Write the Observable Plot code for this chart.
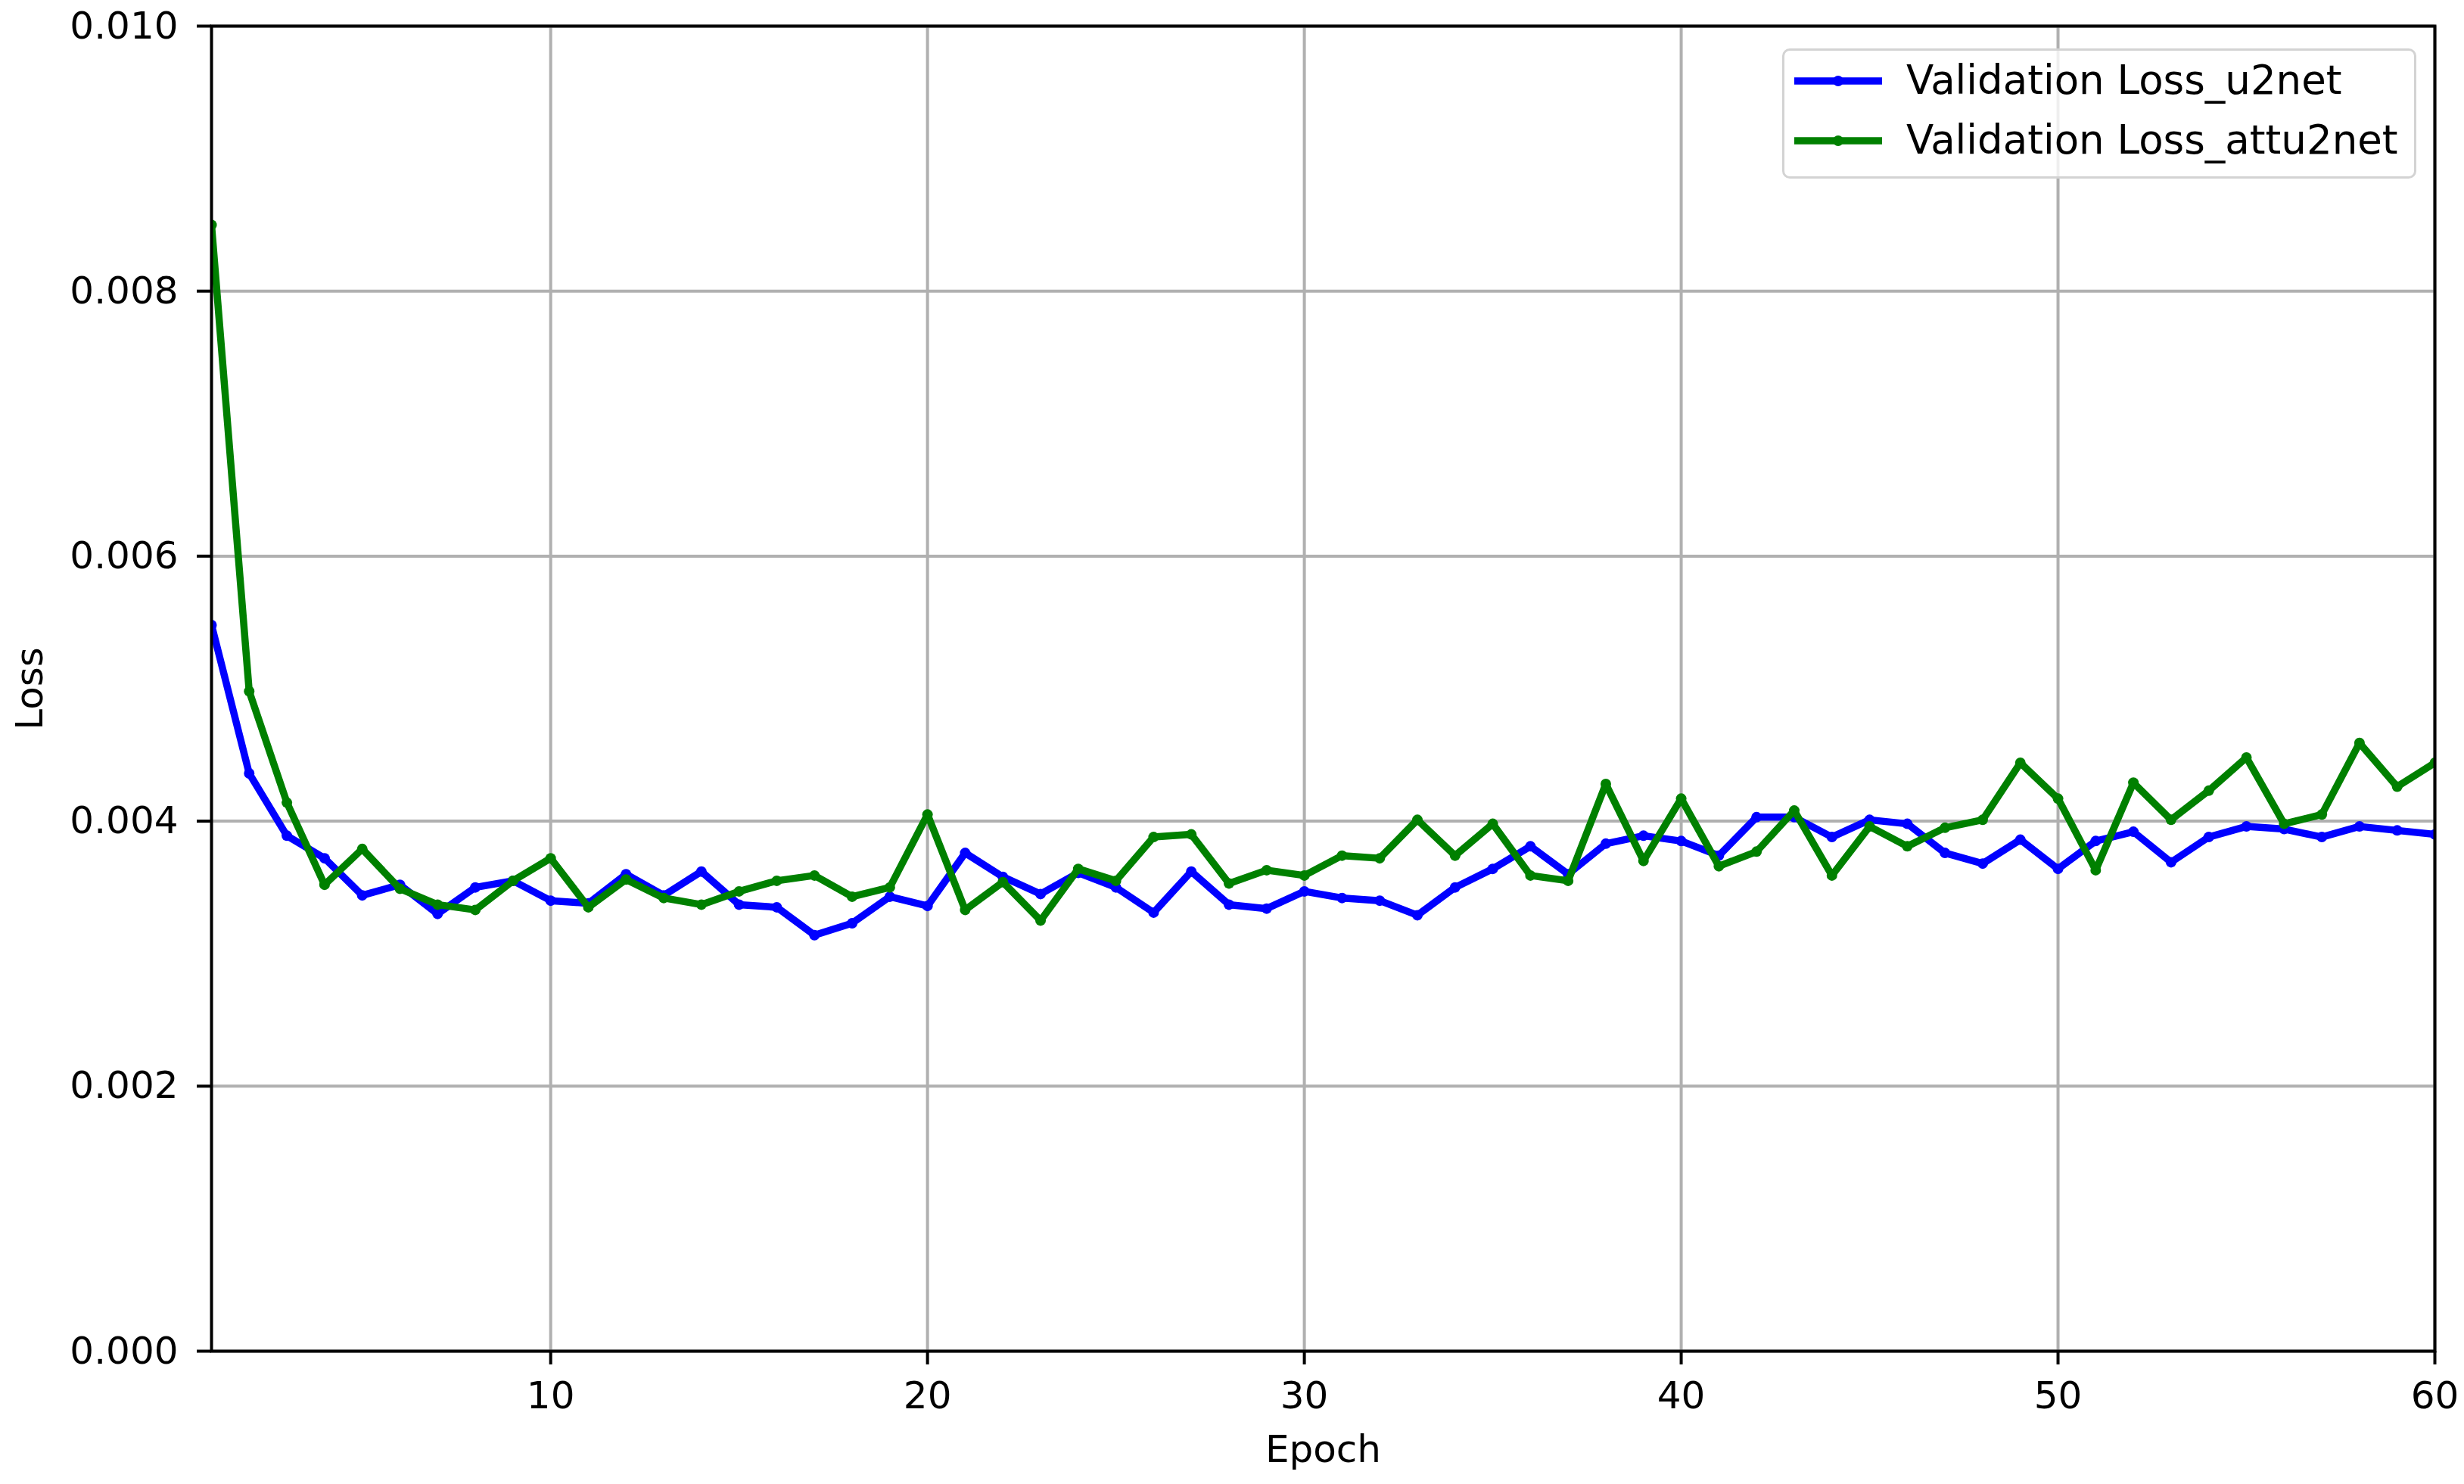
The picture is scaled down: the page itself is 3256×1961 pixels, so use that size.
<!DOCTYPE html>
<html>
<head>
<meta charset="utf-8">
<script src="https://cdn.jsdelivr.net/npm/d3@7"></script>
<script src="https://cdn.jsdelivr.net/npm/@observablehq/plot@0.6"></script>
<style>
  html, body { margin: 0; padding: 0; background: white; }
  #wrap { position: relative; width: 3256px; height: 1961px; font-family: "DejaVu Sans", sans-serif; }
  #legend { position: absolute; left: 2355px; top: 64px; width: 832px; height: 166px;
            border: 3px solid #d3d3d3; border-radius: 10px; background: rgba(255,255,255,0.8); box-sizing: content-box; }
  .item { position: absolute; left: 0; height: 60px; display: block; }
  .item svg { position: absolute; left: 11px; top: 0; }
  .item span { position: absolute; left: 161px; top: -1px; line-height: 60px; font-size: 53px; color: #000; white-space: nowrap; }
</style>
</head>
<body>
<div id="wrap"></div>
<script>
// ---- data ----
const epochs = [1,2,3,4,5,6,7,8,9,10,11,12,13,14,15,16,17,18,19,20,
                21,22,23,24,25,26,27,28,29,30,31,32,33,34,35,36,37,38,39,40,
                41,42,43,44,45,46,47,48,49,50,51,52,53,54,55,56,57,58,59,60];
const lossU2net = [0.00548,0.00436,0.00389,0.00372,0.00344,0.00352,0.00330,0.00350,0.00355,0.00340,
                   0.00338,0.00360,0.00344,0.00362,0.00337,0.00335,0.00314,0.00323,0.00343,0.00336,
                   0.00376,0.00358,0.00345,0.00361,0.00350,0.00331,0.00362,0.00337,0.00334,0.00347,
                   0.00342,0.00340,0.00329,0.00350,0.00364,0.00381,0.00360,0.00383,0.00389,0.00385,
                   0.00374,0.00403,0.00403,0.00388,0.00401,0.00398,0.00376,0.00368,0.00386,0.00364,
                   0.00385,0.00392,0.00369,0.00388,0.00396,0.00394,0.00388,0.00396,0.00393,0.00390];
const lossAttu2net = [0.00850,0.00498,0.00414,0.00352,0.00379,0.00349,0.00337,0.00333,0.00355,0.00372,
                      0.00335,0.00356,0.00342,0.00337,0.00347,0.00355,0.00359,0.00343,0.00350,0.00405,
                      0.00333,0.00354,0.00325,0.00364,0.00355,0.00388,0.00390,0.00353,0.00363,0.00359,
                      0.00374,0.00372,0.00401,0.00374,0.00398,0.00359,0.00355,0.00428,0.00370,0.00417,
                      0.00366,0.00377,0.00408,0.00359,0.00396,0.00381,0.00395,0.00401,0.00444,0.00417,
                      0.00363,0.00429,0.00401,0.00423,0.00448,0.00398,0.00405,0.00459,0.00426,0.00444];
const seriesNames = ["Validation Loss_u2net", "Validation Loss_attu2net"];
const seriesColors = ["#0000ff", "#008000"];
const xTicks = [10, 20, 30, 40, 50, 60];
const yTicks = [0, 0.002, 0.004, 0.006, 0.008, 0.010];

const u2net = epochs.map((e, i) => ({epoch: e, loss: lossU2net[i]}));
const attu2net = epochs.map((e, i) => ({epoch: e, loss: lossAttu2net[i]}));

const grid = {stroke: "#b0b0b0", strokeOpacity: 1, strokeWidth: 4};

const chart = Plot.plot({
  width: 3256,
  height: 1961,
  marginLeft: 279,
  marginRight: 39,
  marginTop: 34,
  marginBottom: 176,
  style: {fontFamily: "DejaVu Sans", fontSize: "50px", background: "white", color: "black", overflow: "visible"},
  x: {domain: [1, 60]},
  y: {domain: [0, 0.010]},
  marks: [
    Plot.gridX(xTicks, grid),
    Plot.gridY(yTicks, grid),
    Plot.line(u2net, {x: "epoch", y: "loss", stroke: seriesColors[0], strokeWidth: 9.5, strokeLinejoin: "round", clip: true}),
    Plot.dot(u2net, {x: "epoch", y: "loss", fill: seriesColors[0], r: 7, clip: true}),
    Plot.line(attu2net, {x: "epoch", y: "loss", stroke: seriesColors[1], strokeWidth: 9.5, strokeLinejoin: "round", clip: true}),
    Plot.dot(attu2net, {x: "epoch", y: "loss", fill: seriesColors[1], r: 7, clip: true}),
    Plot.frame({stroke: "black", strokeWidth: 4}),
    Plot.axisX(xTicks, {tickSize: 18, tickPadding: 22, strokeWidth: 4, fontSize: 50,
      label: "Epoch", labelAnchor: "center", labelArrow: "none", labelOffset: 146}),
    Plot.axisY(yTicks, {tickSize: 19, tickPadding: 25, strokeWidth: 4, fontSize: 50,
      tickFormat: d3.format(".3f"), label: "Loss", labelAnchor: "center", labelArrow: "none", labelOffset: 259})
  ]
});

const wrap = document.getElementById("wrap");
wrap.appendChild(chart);

// legend (inside the plot area, upper right, like the original)
const legend = document.createElement("div");
legend.id = "legend";
seriesNames.forEach((name, i) => {
  const item = document.createElement("div");
  item.className = "item";
  item.style.top = (10 + i * 79) + "px";
  item.style.width = "100%";
  const ns = "http://www.w3.org/2000/svg";
  const svg = document.createElementNS(ns, "svg");
  svg.setAttribute("width", "120");
  svg.setAttribute("height", "60");
  const ln = document.createElementNS(ns, "line");
  ln.setAttribute("x1", "2"); ln.setAttribute("x2", "118");
  ln.setAttribute("y1", "30"); ln.setAttribute("y2", "30");
  ln.setAttribute("stroke", seriesColors[i]); ln.setAttribute("stroke-width", "9.5");
  svg.appendChild(ln);
  const c = document.createElementNS(ns, "circle");
  c.setAttribute("cx", "60"); c.setAttribute("cy", "30"); c.setAttribute("r", "7");
  c.setAttribute("fill", seriesColors[i]);
  svg.appendChild(c);
  item.appendChild(svg);
  const span = document.createElement("span");
  span.textContent = name;
  item.appendChild(span);
  legend.appendChild(item);
});
wrap.appendChild(legend);
</script>
</body>
</html>
